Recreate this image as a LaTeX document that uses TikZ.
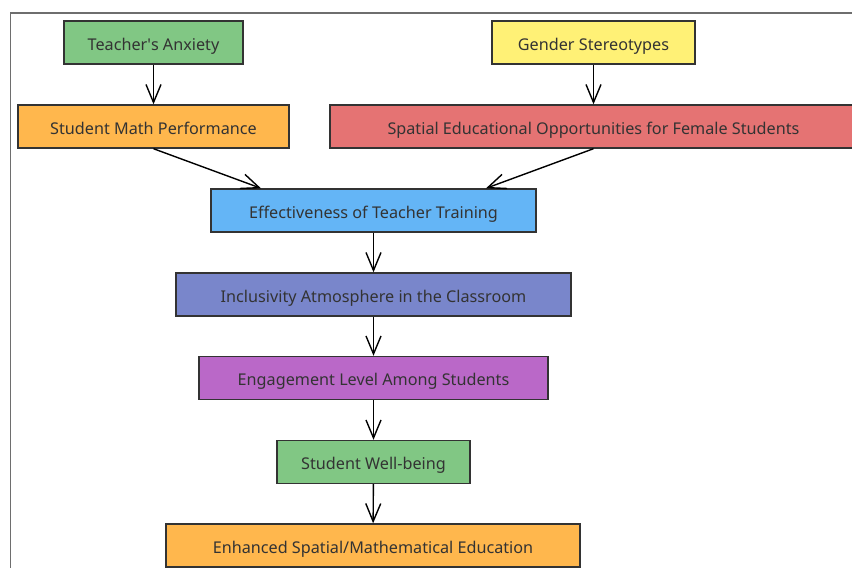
\documentclass[tikz,border=0pt]{standalone}
\usepackage{fontspec}
\setmainfont{Noto Sans}
\usetikzlibrary{arrows.meta}
\definecolor{boxline}{HTML}{333333}
\definecolor{txt}{HTML}{333333}
\definecolor{framegray}{HTML}{6E6E6E}
\definecolor{mgreen}{HTML}{81C784}
\definecolor{myellow}{HTML}{FFF176}
\definecolor{morange}{HTML}{FFB74D}
\definecolor{mred}{HTML}{E57373}
\definecolor{mblue}{HTML}{64B5F6}
\definecolor{mindigo}{HTML}{7986CB}
\definecolor{mpurple}{HTML}{BA68C8}

\begin{document}
\begin{tikzpicture}[x=1pt,y=-1pt,
    box/.style={draw=boxline, line width=1.4pt, minimum height=43pt, inner sep=0pt,
      text height=15.6pt, text depth=0pt, text=txt, font=\fontsize{16.2}{19}\selectfont},
    link/.style={-{Straight Barb[length=18pt,width=15pt]}, line width=1.4pt, draw=black}]
	\useasboundingbox (0,0) rectangle (852,568);
	\clip (0,0) rectangle (852,568);
	\draw[framegray, line width=1.4pt] (10.5,570) -- (10.5,13) -- (854,13);
	% top row
	\node[box, fill=mgreen, minimum width=179pt] (anx) at (153.5,42.5) {Teacher\textquotesingle s Anxiety};
	\node[box, fill=myellow, minimum width=203pt] (gen) at (593.5,42.5) {Gender Stereotypes};
	\node[box, fill=morange, minimum width=271pt] (smp) at (153.5,126.5) {Student Math Performance};
	\node[box, fill=mred, minimum width=527pt] (seo) at (593.5,126.5) {Spatial Educational Opportunities for Female Students};
	% middle column
	\node[box, fill=mblue, minimum width=325pt] (eff) at (373.5,210.5) {Effectiveness of Teacher Training};
	\node[box, fill=mindigo, minimum width=395pt] (inc) at (373.5,294.5) {Inclusivity Atmosphere in the Classroom};
	\node[box, fill=mpurple, minimum width=349pt] (eng) at (373.5,378) {Engagement Level Among Students};
	\node[box, fill=mgreen, minimum width=193pt] (wel) at (373.5,462) {Student Well-being};
	\node[box, fill=morange, minimum width=414pt] (enh) at (373,545.5) {Enhanced Spatial/Mathematical Education};
	% links
	\draw[link] (anx) -- (smp);
	\draw[link] (gen) -- (seo);
	\draw[link] (smp.south) -- ([xshift=-112.5pt]eff.north);
	\draw[link] (seo.south) -- ([xshift=112.5pt]eff.north);
	\draw[link] (eff) -- (inc);
	\draw[link] (inc) -- (eng);
	\draw[link] (eng) -- (wel);
	\draw[link] (wel) -- (enh);
\end{tikzpicture}
\end{document}
